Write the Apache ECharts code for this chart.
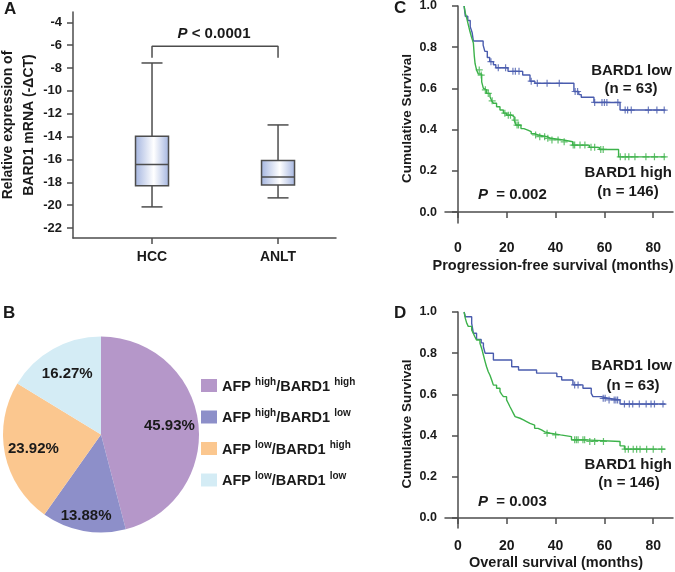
<!DOCTYPE html>
<html><head><meta charset="utf-8">
<script src="https://cdn.jsdelivr.net/npm/echarts@6/dist/echarts.min.js"></script>
<style>html,body{margin:0;padding:0;background:#fff}#c{width:675px;height:572px}</style>
</head><body><div id="c"></div>
<script>
// ---------- Panel A: box plot ----------
const boxCategories = ['HCC', 'ANLT'];
// [min, Q1, median, Q3, max]
const boxHCC = [-20.15, -18.29, -16.45, -13.97, -7.56];
const boxANLT = [-19.36, -18.23, -17.53, -16.10, -12.98];
const boxYTicks = [-22, -20, -18, -16, -14, -12, -10, -8, -6, -4];
const sigBracket = [[1, -7.1], [1, -6.1], [2, -6.1], [2, -7.1]];

// ---------- Panel B: pie ----------
const pieValues = [45.93, 13.88, 23.92, 16.27];
const pieAFP = ['high', 'high', 'low', 'low'];
const pieBARD1 = ['high', 'low', 'high', 'low'];

// ---------- Panel C: progression-free survival ----------
const survTicks = [0, 0.2, 0.4, 0.6, 0.8, 1.0];
const monthTicks = [0, 20, 40, 60, 80];
const pfsLow = [[2.5,1],[3,0.95],[4,0.93],[5,0.9],[5.8,0.87],[6.3,0.83],[10.3,0.81],[11,0.78],[12,0.75],[13,0.73],[14.5,0.715],[15.5,0.70],[20.5,0.683],[26.5,0.665],[29.5,0.635],[31.5,0.625],[47.5,0.585],[49.5,0.57],[50.5,0.557],[55.7,0.532],[66.4,0.495],[85,0.495]];
const pfsLowCens = [[13.5,0.73],[16.5,0.70],[19.5,0.70],[22.5,0.683],[23.5,0.683],[25,0.683],[30,0.635],[32.5,0.625],[36.5,0.625],[41.5,0.625],[48,0.585],[49,0.585],[56,0.532],[59,0.532],[60,0.532],[61,0.532],[65.5,0.532],[68.5,0.495],[69.5,0.495],[71,0.495],[78,0.495],[81.5,0.495],[84.5,0.495]];
const pfsHigh = [[2.5,1],[3,0.965],[3.6,0.94],[4.2,0.91],[4.9,0.876],[5.5,0.85],[6.3,0.82],[6.7,0.754],[7,0.72],[7.6,0.69],[8.3,0.67],[9.7,0.632],[10.4,0.6],[11,0.593],[11.7,0.576],[13.1,0.56],[13.8,0.54],[14.5,0.528],[15.8,0.511],[17.2,0.495],[18.6,0.48],[19.9,0.47],[22,0.463],[23,0.446],[23.8,0.422],[25.8,0.405],[27,0.398],[28.6,0.39],[30,0.38],[31.4,0.374],[32.8,0.366],[36.5,0.358],[38,0.35],[43.2,0.341],[47,0.325],[53.8,0.314],[57.9,0.304],[65.8,0.268],[85,0.268]];
const pfsHighCens = [[8.7,0.69],[9.5,0.665],[11.2,0.593],[12.4,0.576],[14,0.54],[19.2,0.48],[20.6,0.47],[21.5,0.47],[23.4,0.446],[24.2,0.422],[24.8,0.422],[31.8,0.374],[33.5,0.366],[35.5,0.366],[36.8,0.358],[38.5,0.35],[41,0.35],[43.5,0.341],[47.2,0.325],[47.8,0.325],[50,0.325],[52,0.325],[54.5,0.314],[56,0.314],[58.5,0.304],[59.5,0.304],[66.5,0.268],[68.5,0.268],[70,0.268],[72.5,0.268],[77,0.268],[80.5,0.268],[84.5,0.268]];

// ---------- Panel D: overall survival ----------
const osLow = [[2.5,1],[3,0.977],[5.6,0.945],[6.3,0.897],[7.6,0.867],[9.5,0.85],[10.4,0.831],[11.1,0.8],[14.5,0.767],[22,0.734],[24.8,0.718],[32.2,0.703],[40.5,0.686],[42.5,0.67],[47.1,0.646],[51.2,0.63],[54.6,0.605],[55.3,0.589],[58.7,0.581],[61.5,0.573],[66.4,0.553],[85,0.553]];
const osLowCens = [[47.8,0.646],[49.2,0.646],[59.5,0.581],[60.3,0.581],[61.9,0.573],[64,0.573],[64.7,0.573],[65.4,0.573],[68.2,0.553],[70.2,0.553],[71.6,0.553],[74.3,0.553],[77.1,0.553],[79.1,0.553],[80.5,0.553],[84,0.553]];
const osHigh = [[2.5,1],[3,0.969],[3.6,0.945],[4.2,0.93],[5.6,0.913],[6.3,0.896],[6.9,0.88],[7.6,0.864],[9,0.848],[9.7,0.823],[10.4,0.791],[11.1,0.759],[11.7,0.734],[12.4,0.71],[13.1,0.693],[13.8,0.67],[14.5,0.645],[15.8,0.63],[17.2,0.613],[17.9,0.6],[18.6,0.589],[19.9,0.573],[20.6,0.557],[21.3,0.54],[22,0.524],[22.7,0.508],[23.4,0.492],[24,0.484],[25.4,0.476],[26.8,0.468],[28.1,0.459],[29.5,0.451],[31.4,0.435],[32.8,0.427],[34.2,0.418],[35.6,0.411],[37.8,0.403],[42,0.395],[46.5,0.379],[52,0.371],[66.4,0.35],[68.2,0.334],[85,0.334]];
const osHighCens = [[36.5,0.411],[40,0.403],[47.8,0.379],[48.5,0.379],[49.2,0.379],[51.2,0.379],[51.9,0.379],[54,0.371],[56,0.371],[59.6,0.371],[68.5,0.334],[69.8,0.334],[71.8,0.334],[73.2,0.334],[74.6,0.334],[77.3,0.334],[80,0.334],[83.5,0.334]];

// ---------- styles ----------
const FONT = '"Liberation Sans", Arial, sans-serif';
const TXT = '#1a1a1a';
const AX = '#4d4d4d';
const BLUE = '#4a5cae';
const GREEN = '#3cb24a';
const PIE_COLORS = ['#b597c9', '#8d8fc9', '#fbc78f', '#d4ecf5'];
const CROSS = 'path://M5,0L5,10M0,5L10,5';

const axisLineStyle = { show: true, lineStyle: { color: AX, width: 1.5 } };
const tickStyle = (vals) => ({ show: true, inside: false, length: 6, customValues: vals, lineStyle: { color: AX, width: 1.5 } });
const lblStyle = (vals, size, margin, fmt) => ({ customValues: vals, fontFamily: FONT, fontWeight: 'bold', fontSize: size, color: TXT, margin: margin, formatter: fmt });
const nameStyle = (size) => ({ fontFamily: FONT, fontWeight: 'bold', fontSize: size, color: TXT });

const chart = echarts.init(document.getElementById('c'), null, { renderer: 'canvas' });

const boxData = [[1].concat(boxHCC), [2].concat(boxANLT)];
const legendNames = pieAFP.map((a, i) => 'AFP ' + a + '/BARD1 ' + pieBARD1[i]);
const pieLabelFont = { fontFamily: FONT, fontWeight: 'bold', fontSize: 15, color: TXT };

const option = {
  animation: false,
  textStyle: { fontFamily: FONT },
  grid: [
    { left: 73, top: 12, width: 263, height: 226, outerBoundsMode: 'none', containLabel: false },
    { left: 445, top: 6, width: 228, height: 217, outerBoundsMode: 'none', containLabel: false },
    { left: 445, top: 312, width: 228, height: 216, outerBoundsMode: 'none', containLabel: false }
  ],
  xAxis: [
    { gridIndex: 0, type: 'value', min: 0.373, max: 2.46, splitLine: { show: false },
      axisLine: axisLineStyle, axisTick: tickStyle([1, 2]),
      axisLabel: lblStyle([1, 2], 14, 12, v => boxCategories[Math.round(v) - 1] || '') },
    { gridIndex: 1, type: 'value', min: -5.33, max: 88.1, splitLine: { show: false },
      axisLine: axisLineStyle, axisTick: tickStyle(monthTicks),
      axisLabel: lblStyle(monthTicks, 14, 18, v => String(v)),
      name: 'Progression-free survival (months)', nameLocation: 'middle', nameGap: 35,
      nameTextStyle: Object.assign(nameStyle(14.5), { padding: [0, 12, 0, 0] }) },
    { gridIndex: 2, type: 'value', min: -5.33, max: 88.1, splitLine: { show: false },
      axisLine: axisLineStyle, axisTick: tickStyle(monthTicks),
      axisLabel: lblStyle(monthTicks, 14, 11, v => String(v)),
      name: 'Overall survival (months)', nameLocation: 'middle', nameGap: 27,
      nameTextStyle: Object.assign(nameStyle(14.5), { padding: [0, 6, 0, 0] }) }
  ],
  yAxis: [
    { gridIndex: 0, type: 'value', min: -22.87, max: -3.1, splitLine: { show: false },
      axisLine: axisLineStyle, axisTick: tickStyle(boxYTicks),
      axisLabel: lblStyle(boxYTicks, 13, 11, v => String(Math.round(v))),
      name: 'Relative expression of\nBARD1 mRNA (-\u0394CT)', nameLocation: 'middle', nameGap: 33,
      nameTextStyle: Object.assign(nameStyle(14), { lineHeight: 21 }) },
    { gridIndex: 1, type: 'value', min: -0.053, max: 1.0, splitLine: { show: false },
      axisLine: axisLineStyle, axisTick: tickStyle(survTicks),
      axisLabel: lblStyle(survTicks, 12.5, 8, v => v.toFixed(1)),
      name: 'Cumulative Survival', nameLocation: 'middle', nameGap: 31,
      nameTextStyle: Object.assign(nameStyle(13.5), { padding: [0, 8, 0, 0] }) },
    { gridIndex: 2, type: 'value', min: -0.049, max: 1.0, splitLine: { show: false },
      axisLine: axisLineStyle, axisTick: tickStyle(survTicks),
      axisLabel: lblStyle(survTicks, 12.5, 8, v => v.toFixed(1)),
      name: 'Cumulative Survival', nameLocation: 'middle', nameGap: 31,
      nameTextStyle: Object.assign(nameStyle(13.5), { padding: [0, 8, 0, 0] }) }
  ],
  legend: {
    orient: 'vertical', left: 201, top: 377, padding: 0, itemWidth: 16, itemHeight: 13, itemGap: 14.5,
    icon: 'rect', selectedMode: false,
    data: legendNames,
    formatter: function (name) {
      const i = legendNames.indexOf(name);
      return '{b|AFP }{s|' + pieAFP[i] + '}{b|/BARD1 }{s|' + pieBARD1[i] + '}';
    },
    textStyle: {
      rich: {
        b: { fontFamily: FONT, fontWeight: 'bold', fontSize: 14.5, color: TXT, lineHeight: 17, verticalAlign: 'bottom' },
        s: { fontFamily: FONT, fontWeight: 'bold', fontSize: 10, color: TXT, lineHeight: 11, verticalAlign: 'top' }
      }
    }
  },
  graphic: [
    { type: 'text', left: 4, top: 1, style: { text: 'A', font: 'bold 17px ' + FONT, fill: TXT } },
    { type: 'text', left: 3, top: 305, style: { text: 'B', font: 'bold 17px ' + FONT, fill: TXT } },
    { type: 'text', left: 394, top: 0, style: { text: 'C', font: 'bold 17px ' + FONT, fill: TXT } },
    { type: 'text', left: 394, top: 305, style: { text: 'D', font: 'bold 17px ' + FONT, fill: TXT } },
    { type: 'text', x: 214, y: 34, style: { text: '{i|P}{n| < 0.0001}', align: 'center', verticalAlign: 'middle',
      rich: { i: { font: 'italic bold 15px ' + FONT, fill: TXT }, n: { font: 'bold 15px ' + FONT, fill: TXT } } } },
    // panel C annotations
    { type: 'text', x: 672, y: 71, style: { text: 'BARD1 low', font: 'bold 15px ' + FONT, fill: TXT, align: 'right', verticalAlign: 'middle' } },
    { type: 'text', x: 631, y: 89, style: { text: '(n = 63)', font: 'bold 15px ' + FONT, fill: TXT, align: 'center', verticalAlign: 'middle' } },
    { type: 'text', x: 672, y: 173, style: { text: 'BARD1 high', font: 'bold 15px ' + FONT, fill: TXT, align: 'right', verticalAlign: 'middle' } },
    { type: 'text', x: 628, y: 192, style: { text: '(n = 146)', font: 'bold 15px ' + FONT, fill: TXT, align: 'center', verticalAlign: 'middle' } },
    { type: 'text', x: 478, y: 195, style: { text: '{i|P}{n|  = 0.002}', align: 'left', verticalAlign: 'middle',
      rich: { i: { font: 'italic bold 15px ' + FONT, fill: TXT }, n: { font: 'bold 15px ' + FONT, fill: TXT } } } },
    // panel D annotations
    { type: 'text', x: 672, y: 366, style: { text: 'BARD1 low', font: 'bold 15px ' + FONT, fill: TXT, align: 'right', verticalAlign: 'middle' } },
    { type: 'text', x: 633, y: 386, style: { text: '(n = 63)', font: 'bold 15px ' + FONT, fill: TXT, align: 'center', verticalAlign: 'middle' } },
    { type: 'text', x: 672, y: 465, style: { text: 'BARD1 high', font: 'bold 15px ' + FONT, fill: TXT, align: 'right', verticalAlign: 'middle' } },
    { type: 'text', x: 629, y: 483, style: { text: '(n = 146)', font: 'bold 15px ' + FONT, fill: TXT, align: 'center', verticalAlign: 'middle' } },
    { type: 'text', x: 478, y: 502, style: { text: '{i|P}{n|  = 0.003}', align: 'left', verticalAlign: 'middle',
      rich: { i: { font: 'italic bold 15px ' + FONT, fill: TXT }, n: { font: 'bold 15px ' + FONT, fill: TXT } } } }
  ],
  series: [
    {
      type: 'custom', xAxisIndex: 0, yAxisIndex: 0, data: boxData,
      renderItem: function (params, api) {
        const x = api.value(0);
        const pMin = api.coord([x, api.value(1)]);
        const pQ1 = api.coord([x, api.value(2)]);
        const pMed = api.coord([x, api.value(3)]);
        const pQ3 = api.coord([x, api.value(4)]);
        const pMax = api.coord([x, api.value(5)]);
        const bw = 33, cw = 21;
        const cx = pMed[0];
        const ls = { stroke: AX, lineWidth: 1.5 };
        const grad = new echarts.graphic.LinearGradient(0, 0, 1, 0, [
          { offset: 0, color: '#a3b4df' }, { offset: 0.55, color: '#ffffff' }, { offset: 1, color: '#a3b4df' }]);
        return {
          type: 'group', children: [
            { type: 'line', shape: { x1: cx, y1: pMax[1], x2: cx, y2: pQ3[1] }, style: ls },
            { type: 'line', shape: { x1: cx, y1: pQ1[1], x2: cx, y2: pMin[1] }, style: ls },
            { type: 'line', shape: { x1: cx - cw / 2, y1: pMax[1], x2: cx + cw / 2, y2: pMax[1] }, style: ls },
            { type: 'line', shape: { x1: cx - cw / 2, y1: pMin[1], x2: cx + cw / 2, y2: pMin[1] }, style: ls },
            { type: 'rect', shape: { x: cx - bw / 2, y: pQ3[1], width: bw, height: pQ1[1] - pQ3[1] }, style: { fill: grad, stroke: AX, lineWidth: 1.5 } },
            { type: 'line', shape: { x1: cx - bw / 2, y1: pMed[1], x2: cx + bw / 2, y2: pMed[1] }, style: ls }
          ]
        };
      }
    },
    { type: 'line', xAxisIndex: 0, yAxisIndex: 0, data: sigBracket, symbol: 'none', lineStyle: { color: AX, width: 1.5 } },
    {
      type: 'pie', center: [101, 434.5], radius: [0, 98], startAngle: 90, clockwise: true,
      label: { show: false }, labelLine: { show: false },
      itemStyle: { borderWidth: 0 },
      data: pieValues.map((v, i) => ({ name: legendNames[i], value: v, itemStyle: { color: PIE_COLORS[i] } }))
    },
    {
      type: 'pie', center: [101, 434.5], radius: [34, 98], startAngle: 90, clockwise: true, silent: true,
      legendHoverLink: false,
      itemStyle: { color: 'rgba(0,0,0,0)' }, labelLine: { show: false },
      label: Object.assign({ show: true, position: 'inside', formatter: p => p.value.toFixed(2) + '%' }, pieLabelFont),
      data: pieValues.map((v, i) => ({ name: 'lblA' + i, value: v, label: { show: i !== 1 } }))
    },
    {
      type: 'pie', center: [101, 434.5], radius: [62, 98], startAngle: 90, clockwise: true, silent: true,
      legendHoverLink: false,
      itemStyle: { color: 'rgba(0,0,0,0)' }, labelLine: { show: false },
      label: Object.assign({ show: true, position: 'inside', formatter: p => p.value.toFixed(2) + '%' }, pieLabelFont),
      data: pieValues.map((v, i) => ({ name: 'lblB' + i, value: v, label: { show: i === 1 } }))
    },
    { type: 'line', xAxisIndex: 1, yAxisIndex: 1, data: pfsLow, step: 'end', symbol: 'none', lineStyle: { color: BLUE, width: 1.4 } },
    { type: 'line', xAxisIndex: 1, yAxisIndex: 1, data: pfsHigh, step: 'end', symbol: 'none', lineStyle: { color: GREEN, width: 1.4 } },
    { type: 'scatter', xAxisIndex: 1, yAxisIndex: 1, data: pfsLowCens, symbol: CROSS, symbolSize: 7, itemStyle: { color: 'none', borderColor: BLUE, borderWidth: 1.2 } },
    { type: 'scatter', xAxisIndex: 1, yAxisIndex: 1, data: pfsHighCens, symbol: CROSS, symbolSize: 7, itemStyle: { color: 'none', borderColor: GREEN, borderWidth: 1.2 } },
    { type: 'line', xAxisIndex: 2, yAxisIndex: 2, data: osLow, step: 'end', symbol: 'none', lineStyle: { color: BLUE, width: 1.4 } },
    { type: 'line', xAxisIndex: 2, yAxisIndex: 2, data: osHigh, step: 'end', symbol: 'none', lineStyle: { color: GREEN, width: 1.4 } },
    { type: 'scatter', xAxisIndex: 2, yAxisIndex: 2, data: osLowCens, symbol: CROSS, symbolSize: 7, itemStyle: { color: 'none', borderColor: BLUE, borderWidth: 1.2 } },
    { type: 'scatter', xAxisIndex: 2, yAxisIndex: 2, data: osHighCens, symbol: CROSS, symbolSize: 7, itemStyle: { color: 'none', borderColor: GREEN, borderWidth: 1.2 } }
  ]
};
chart.setOption(option);
</script>
</body></html>
